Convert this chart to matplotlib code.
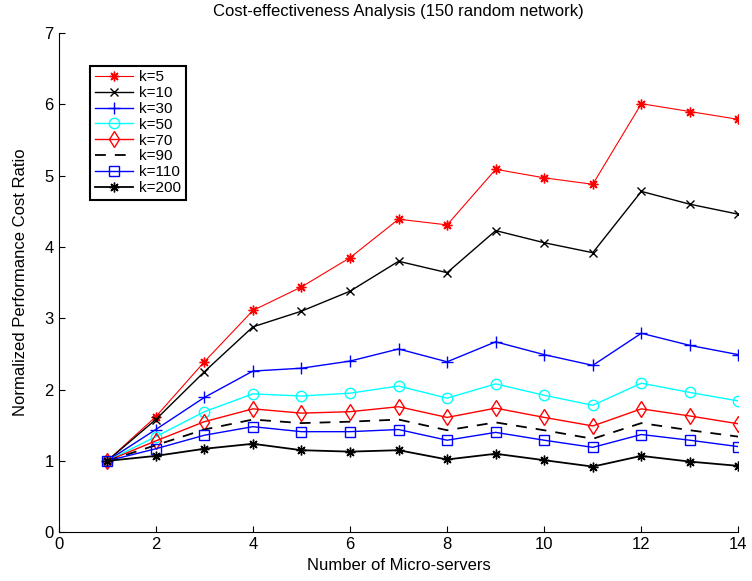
import matplotlib.pyplot as plt

plt.rcParams['font.family'] = ['Liberation Sans', 'DejaVu Sans']

servidores = [1, 2, 3, 4, 5, 6, 7, 8, 9, 10, 11, 12, 13, 14]

k5 = [1.0, 1.62, 2.39, 3.11, 3.44, 3.85, 4.39, 4.31, 5.09, 4.97, 4.88, 6.01, 5.90, 5.79]
k10 = [1.0, 1.58, 2.25, 2.88, 3.10, 3.38, 3.80, 3.64, 4.23, 4.06, 3.92, 4.78, 4.60, 4.46]
k30 = [1.0, 1.44, 1.89, 2.26, 2.30, 2.40, 2.57, 2.39, 2.67, 2.49, 2.34, 2.79, 2.62, 2.49]
k50 = [1.0, 1.34, 1.69, 1.94, 1.91, 1.95, 2.05, 1.88, 2.08, 1.92, 1.78, 2.09, 1.96, 1.84]
k70 = [1.0, 1.28, 1.55, 1.73, 1.67, 1.69, 1.76, 1.61, 1.74, 1.61, 1.49, 1.73, 1.63, 1.52]
k90 = [1.0, 1.22, 1.44, 1.58, 1.53, 1.55, 1.58, 1.43, 1.54, 1.43, 1.31, 1.53, 1.43, 1.34]
k110 = [1.0, 1.17, 1.36, 1.48, 1.41, 1.41, 1.44, 1.29, 1.40, 1.29, 1.19, 1.37, 1.29, 1.20]
k200 = [1.0, 1.07, 1.17, 1.24, 1.15, 1.13, 1.15, 1.02, 1.10, 1.01, 0.92, 1.07, 0.99, 0.93]

asterisco = (8, 2, 0)
rojo = "#ff0000"
azul = "#0000ff"
cian = "#00ffff"

fig = plt.figure(figsize=(7.52, 5.81), dpi=100)
ax = fig.add_axes([0.078, 0.084, 0.904, 0.859])

ax.plot(servidores, k5, color=rojo, marker=asterisco, markersize=7, linewidth=0.8, label="k=5")
ax.plot(servidores, k10, color="k", marker="x", markersize=6, linewidth=1.0, label="k=10")
ax.plot(servidores, k30, color=azul, marker="+", markersize=9, linewidth=1.0, label="k=30")
ax.plot(servidores, k50, color=cian, marker="o", markersize=7.5, markerfacecolor="none", linewidth=1.0, label="k=50")
ax.plot(servidores, k70, color=rojo, marker="d", markersize=8.5, markerfacecolor="none", linewidth=1.0, label="k=70")
ax.plot(servidores, k90, color="k", linestyle=(0, (6, 5)), linewidth=1.3, label="k=90")
ax.plot(servidores, k110, color=azul, marker="s", markersize=6.5, markerfacecolor="none", linewidth=1.0, label="k=110")
ax.plot(servidores, k200, color="k", marker=asterisco, markersize=7, linewidth=1.3, label="k=200")

ax.set_xlim(0, 14)
ax.set_ylim(0, 7)
ax.set_xticks(range(0, 15, 2))
ax.set_yticks(range(0, 8))
ax.tick_params(direction="in", labelsize=12, length=4)
ax.spines["top"].set_visible(False)
ax.spines["right"].set_visible(False)

ax.set_xlabel("Number of Micro-servers", fontsize=12, labelpad=4)
ax.set_ylabel("Normalized Performance Cost Ratio", fontsize=12, labelpad=12)
ax.set_title("Cost-effectiveness Analysis (150 random network)", fontsize=12, pad=12)

leg = ax.legend(loc="upper left", bbox_to_anchor=(0.035, 0.95), fontsize=11, fancybox=False,
                edgecolor="k", handlelength=2.5, labelspacing=0.12, borderpad=0.3,
                handletextpad=0.4, framealpha=1)
leg.get_frame().set_linewidth(1.5)

plt.savefig("out.png")
